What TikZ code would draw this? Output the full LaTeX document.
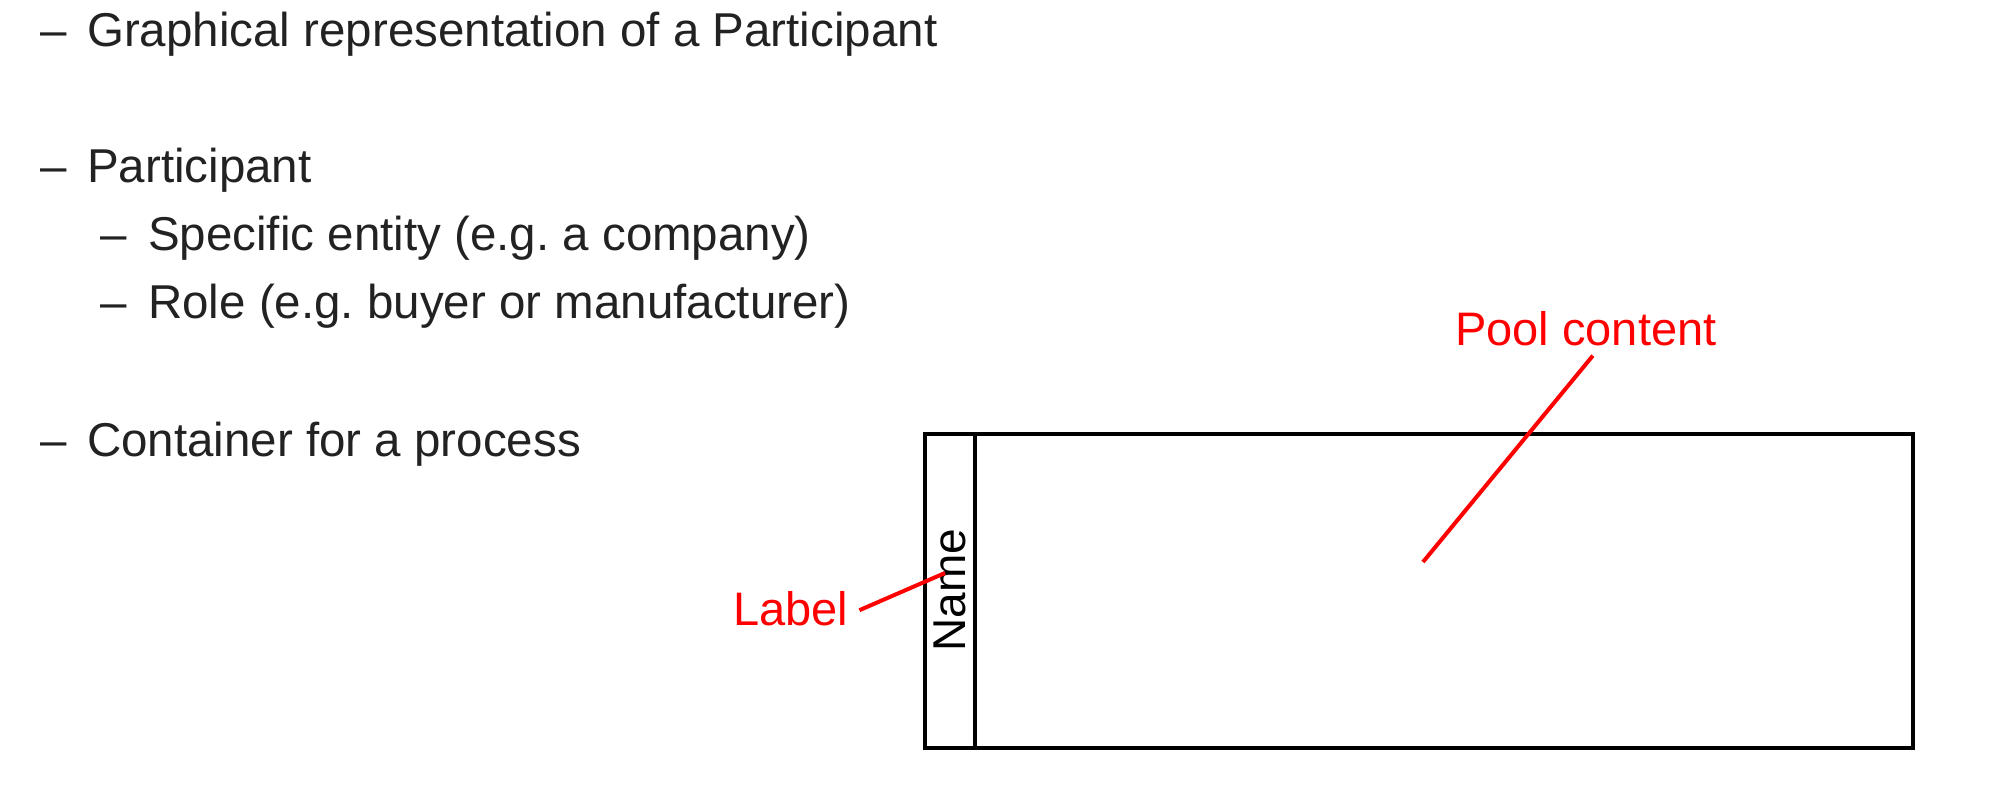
\documentclass[tikz,border=0pt]{standalone}
\usepackage{fontspec}
\setmainfont{Liberation Sans}
\definecolor{txtgray}{RGB}{34,34,34}
\frenchspacing
\begin{document}
\frenchspacing
\begin{tikzpicture}[x=1pt,y=-1pt,
  bullettxt/.style={anchor=base west, inner sep=0pt, text=txtgray, font=\fontsize{47.5}{57}\selectfont},
  redtxt/.style={anchor=base west, inner sep=0pt, text=red, font=\fontsize{47}{56}\selectfont},
  redline/.style={draw=red, line width=4pt},
  poolbox/.style={draw=black, line width=3.3pt, inner sep=0pt, outer sep=0pt}]
\useasboundingbox[fill=white] (0,0) rectangle (1989,810);

% bullet list
\node[bullettxt] (d1) at (40,47) {–};
\node[bullettxt] (t1) at (87,47) {Graphical representation of a Participant};
\node[bullettxt] (d2) at (40,183) {–};
\node[bullettxt] (t2) at (87,183) {Participant};
\node[bullettxt] (d3) at (100,251) {–};
\node[bullettxt] (t3) at (148,251) {Specific entity (e.g. a company)};
\node[bullettxt] (d4) at (100,319) {–};
\node[bullettxt] (t4) at (148,319) {Role (e.g. buyer or manufacturer)};
\node[bullettxt] (d5) at (40,456) {–};
\node[bullettxt] (t5) at (87,456) {Container for a process};

% pool
\node[poolbox, minimum width=988pt, minimum height=314pt] (pool) at (1419,591) {};
\node[poolbox, minimum width=50pt, minimum height=314pt] (lane) at (950,591) {};
\node[anchor=base, rotate=90, inner sep=0pt, font=\fontsize{46}{55}\selectfont] (name) at (965,590) {Name};

% annotations
\node[redtxt, inner xsep=0pt] (label) at (733,625) {Label};
\node[redtxt, inner ysep=10pt, inner xsep=0pt] (pc) at (1455,345) {Pool content};
\coordinate (namept) at (945,573);
\coordinate (poolpt) at (1423,562);
\draw[redline] ([xshift=11pt,yshift=-2pt]label.east) -- (namept);
\draw[redline] ([xshift=7pt]pc.south) -- (poolpt);
\end{tikzpicture}
\end{document}
